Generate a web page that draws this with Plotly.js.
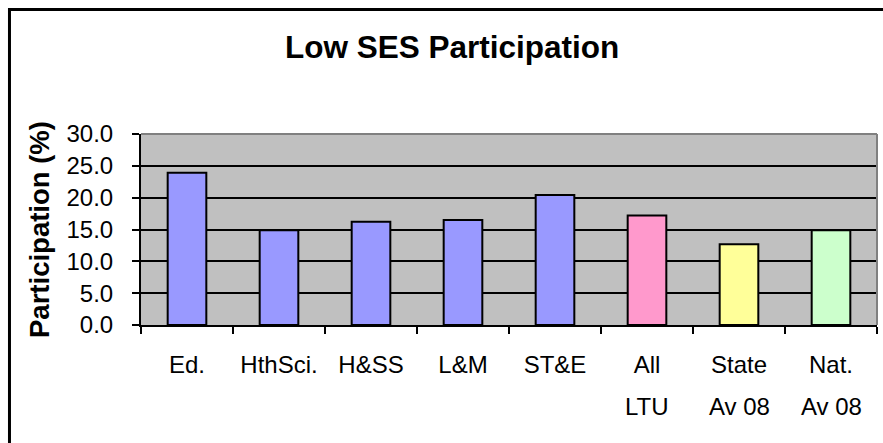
<!DOCTYPE html>
<html>
<head>
<meta charset="utf-8">
<script src="https://cdn.plot.ly/plotly-3.0.1.min.js"></script>
<style>html,body{margin:0;padding:0;background:#fff;}#chart{width:883px;height:443px;}</style>
</head>
<body>
<div id="chart"></div>
<script>
const categories = ['Ed.', 'HthSci.', 'H&SS', 'L&M', 'ST&E', 'All LTU', 'State Av 08', 'Nat. Av 08'];
const labelLine1 = ['Ed.', 'HthSci.', 'H&SS', 'L&M', 'ST&E', 'All', 'State', 'Nat.'];
const labelLine2 = ['', '', '', '', '', 'LTU', 'Av 08', 'Av 08'];
const values = [23.9, 14.9, 16.2, 16.5, 20.4, 17.2, 12.7, 14.9];
const barColors = ['#9999FF', '#9999FF', '#9999FF', '#9999FF', '#9999FF', '#FF99CC', '#FFFF99', '#CCFFCC'];
const yTicks = [0, 5, 10, 15, 20, 25, 30];

const FONT = 'Liberation Sans, Arial, sans-serif';

const trace = {
  type: 'bar',
  x: categories,
  y: values,
  marker: {color: barColors, line: {color: '#000000', width: 2}},
  hoverinfo: 'x+y'
};

const annotations = categories.map((c, i) => ({
  x: c, xref: 'x', y: 0, yref: 'paper',
  yanchor: 'top', yshift: -66,
  text: labelLine2[i], showarrow: false,
  font: {family: FONT, size: 24, color: '#000'}
})).filter(a => a.text !== '');

const layout = {
  width: 883, height: 443,
  margin: {l: 141, r: 6, t: 134, b: 118},
  paper_bgcolor: '#ffffff',
  plot_bgcolor: '#C0C0C0',
  showlegend: false,
  bargap: 0.58,
  font: {family: FONT, size: 24, color: '#000'},
  title: {
    text: '<b>Low SES Participation</b>',
    font: {family: FONT, size: 31.5, color: '#000'},
    xref: 'container', x: 0.512, xanchor: 'center',
    yref: 'container', y: 0.893, yanchor: 'middle'
  },
  xaxis: {
    type: 'category',
    tickmode: 'array', tickvals: categories, ticktext: labelLine1,
    showline: true, linecolor: '#000', linewidth: 2,
    ticks: 'outside', tickson: 'boundaries', ticklen: 7, tickwidth: 2, tickcolor: '#000',
    ticklabelstandoff: 17,
    showgrid: false, zeroline: false,
    tickfont: {family: FONT, size: 24, color: '#000'}
  },
  yaxis: {
    range: [0, 30], tickvals: yTicks, tickformat: '.1f',
    showline: true, linecolor: '#000', linewidth: 2,
    ticks: 'outside', ticklen: 7, tickwidth: 2, tickcolor: '#000',
    ticklabelstandoff: 14,
    showgrid: true, gridcolor: '#000', gridwidth: 2,
    zeroline: false,
    tickfont: {family: FONT, size: 24, color: '#000'},
    title: {text: '<b>Participation (%)</b>', font: {family: FONT, size: 27.5, color: '#000'}, standoff: 9}
  },
  shapes: [
    {type: 'line', xref: 'paper', yref: 'paper', x0: 0, x1: 1, y0: 1, y1: 1, line: {color: '#808080', width: 2}, layer: 'above'},
    {type: 'line', xref: 'paper', yref: 'paper', x0: 1, x1: 1, y0: 0, y1: 1, line: {color: '#808080', width: 2}, layer: 'above'},
    {type: 'rect', xref: 'paper', yref: 'paper', x0: -0.1787, x1: 1.03, y0: -0.7, y1: 1.652, line: {color: '#000', width: 3}, fillcolor: 'rgba(0,0,0,0)', layer: 'above'}
  ],
  annotations: annotations
};

Plotly.newPlot('chart', [trace], layout, {displayModeBar: false, staticPlot: true});
</script>
</body>
</html>
